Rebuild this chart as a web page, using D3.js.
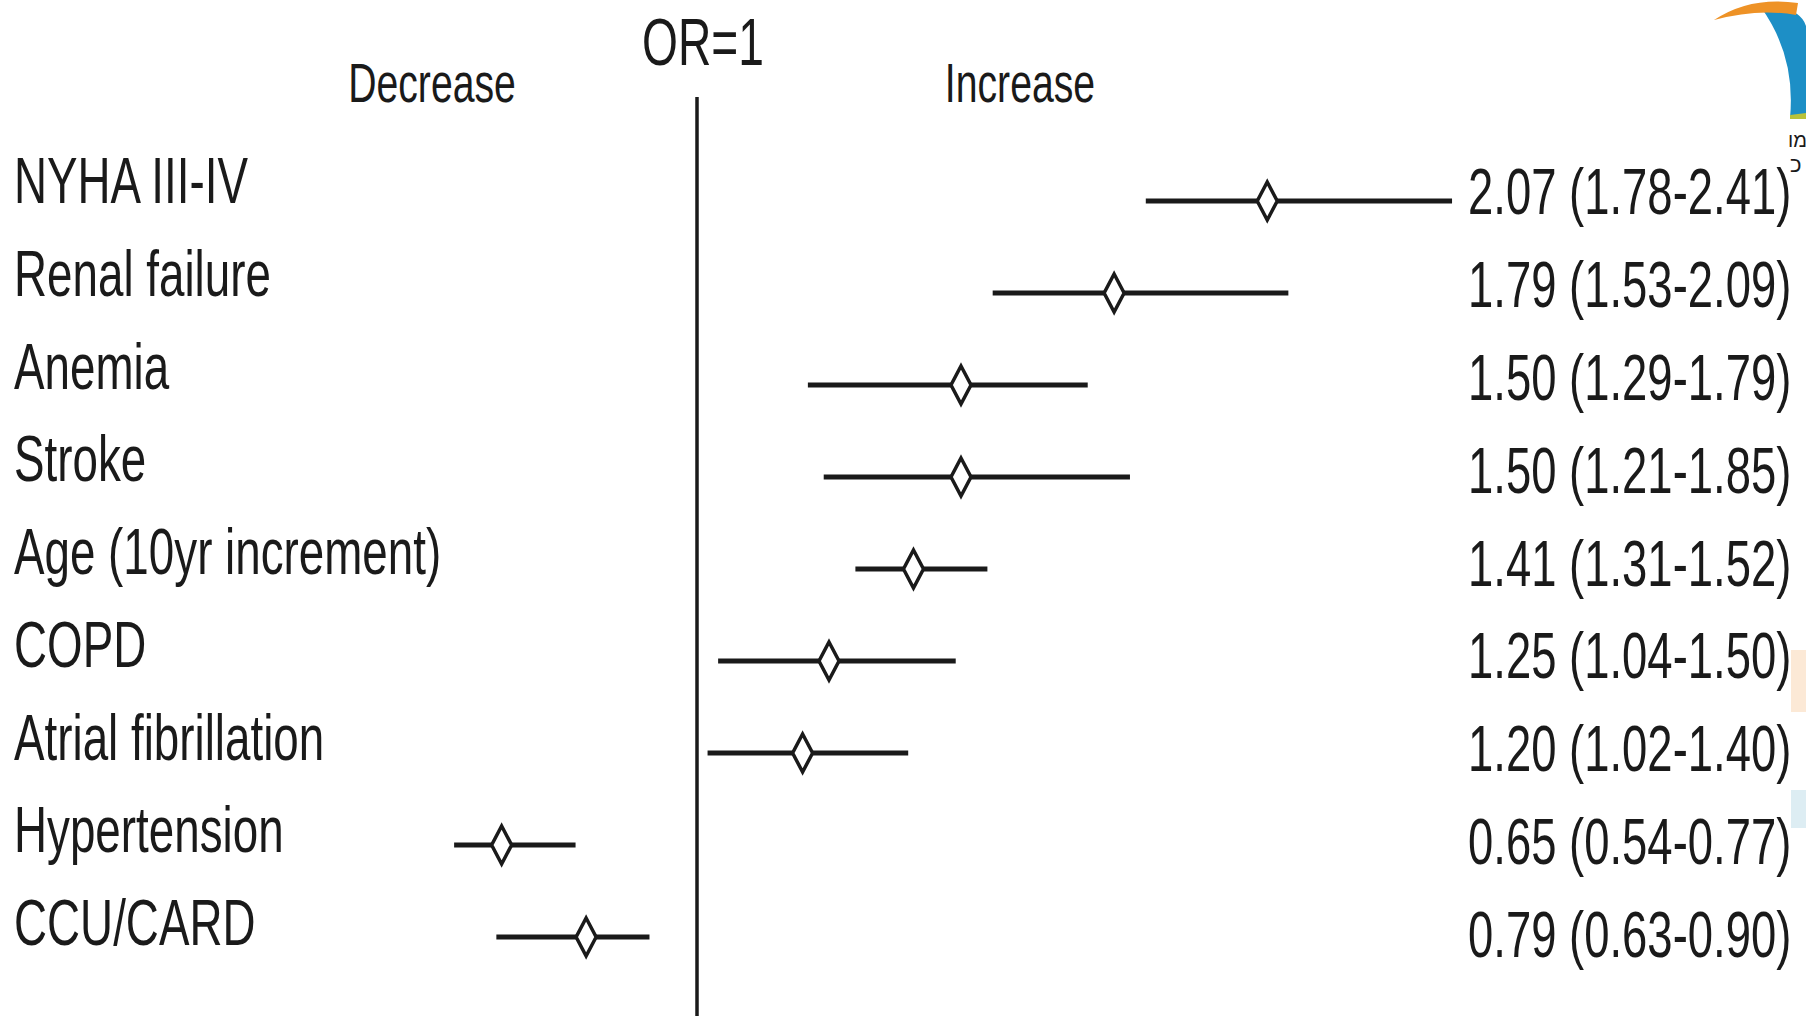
<!DOCTYPE html>
<html>

<head>
    <script src="https://d3js.org/d3.v7.min.js"></script>
    <title>Odds ratio forest plot</title>
    <style>
        body { margin: 0; background: #fff; }
        text { font-family: "Liberation Sans", Arial, sans-serif; fill: #1a1a1a; }
    </style>
</head>

<body>
    <div id="chart"></div>
    <script>
        // row labels (top to bottom)
        const factors = ["NYHA III-IV", "Renal failure", "Anemia", "Stroke", "Age (10yr increment)",
            "COPD", "Atrial fibrillation", "Hypertension", "CCU/CARD"]
        // text printed at the right of each row
        const orLabels = ["2.07 (1.78-2.41)", "1.79 (1.53-2.09)", "1.50 (1.29-1.79)", "1.50 (1.21-1.85)",
            "1.41 (1.31-1.52)", "1.25 (1.04-1.50)", "1.20 (1.02-1.40)", "0.65 (0.54-0.77)", "0.79 (0.63-0.90)"]
        // positions of the marks as drawn in the picture (odds ratio units)
        const orPoint = [2.08, 1.79, 1.50, 1.50, 1.41, 1.25, 1.20, 0.63, 0.79]
        const ciLow = [1.85, 1.56, 1.21, 1.24, 1.30, 1.04, 1.02, 0.54, 0.62]
        const ciHigh = [2.43, 2.12, 1.74, 1.82, 1.55, 1.49, 1.40, 0.77, 0.91]

        const width = 1806
        const height = 1023

        const data = factors.map((f, i) => ({ factor: f, label: orLabels[i], or: orPoint[i], lo: ciLow[i], hi: ciHigh[i] }))

        const svg = d3.select("#chart")
            .append("svg")
            .attr("width", width)
            .attr("height", height)

        svg.append("rect").attr("width", width).attr("height", height).attr("fill", "#fff")

        const x = d3.scaleLinear().domain([1, 2]).range([697, 1225])
        const y = d3.scalePoint().domain(factors).range([201, 937])
        // text rows run on a slightly wider pitch than the marks
        const yLeft = d3.scalePoint().domain(factors).range([203, 945])
        const yRight = d3.scalePoint().domain(factors).range([214, 957])

        // condensed text helper (the original lettering is a narrow face)
        function label(px, py, str, size, anchor, squeeze) {
            svg.append("g")
                .attr("transform", `translate(${px},${py}) scale(${squeeze || 0.7},1)`)
                .append("text")
                .attr("font-size", size)
                .attr("text-anchor", anchor || "start")
                .text(str)
        }

        // reference line at OR = 1
        svg.append("line")
            .attr("x1", x(1)).attr("x2", x(1))
            .attr("y1", 97).attr("y2", 1016)
            .attr("stroke", "#1a1a1a")
            .attr("stroke-width", 3.5)

        label(x(1) + 6, 65, "OR=1", 66, "middle")
        label(432, 102, "Decrease", 56, "middle")
        label(1020, 102, "Increase", 56, "middle")

        // confidence intervals
        svg.selectAll(".ci")
            .data(data)
            .join("line")
            .attr("class", "ci")
            .attr("x1", d => x(d.lo))
            .attr("x2", d => x(d.hi))
            .attr("y1", d => y(d.factor))
            .attr("y2", d => y(d.factor))
            .attr("stroke", "#1a1a1a")
            .attr("stroke-width", 5)

        // point estimates as open diamonds
        svg.selectAll(".est")
            .data(data)
            .join("path")
            .attr("class", "est")
            .attr("d", d => {
                const cx = x(d.or), cy = y(d.factor)
                return `M${cx},${cy - 19}L${cx + 10},${cy}L${cx},${cy + 19}L${cx - 10},${cy}Z`
            })
            .attr("fill", "#fff")
            .attr("stroke", "#1a1a1a")
            .attr("stroke-width", 3.5)

        data.forEach(d => {
            label(14, yLeft(d.factor), d.factor, 64, "start", 0.715)
            label(1468, yRight(d.factor), d.label, 64, "start", 0.71)
        })

        // cut-off logo at the top right corner
        svg.append("path")
            .attr("d", "M1760,6 Q1800,6 1806,26 L1806,118 L1790,118 Q1796,55 1760,6 Z")
            .attr("fill", "#1d8fc6")
        svg.append("path")
            .attr("d", "M1790,115 L1806,113 L1806,119 L1790,119 Z")
            .attr("fill", "#b9c23a")
        svg.append("path")
            .attr("d", "M1714,20 Q1750,-4 1798,3 L1796,15 Q1758,8 1714,20 Z")
            .attr("fill", "#ee9226")
        label(1788, 147, "מו", 20, "start", 1)
        label(1790, 172, "כ", 22, "start", 1)

        // faint bits of the background at the right edge
        svg.append("rect").attr("x", 1791).attr("y", 650).attr("width", 15).attr("height", 62).attr("fill", "#fbe3cc").attr("opacity", 0.8)
        svg.append("rect").attr("x", 1791).attr("y", 790).attr("width", 15).attr("height", 38).attr("fill", "#d5e8f0").attr("opacity", 0.8)
    </script>
</body>

</html>
